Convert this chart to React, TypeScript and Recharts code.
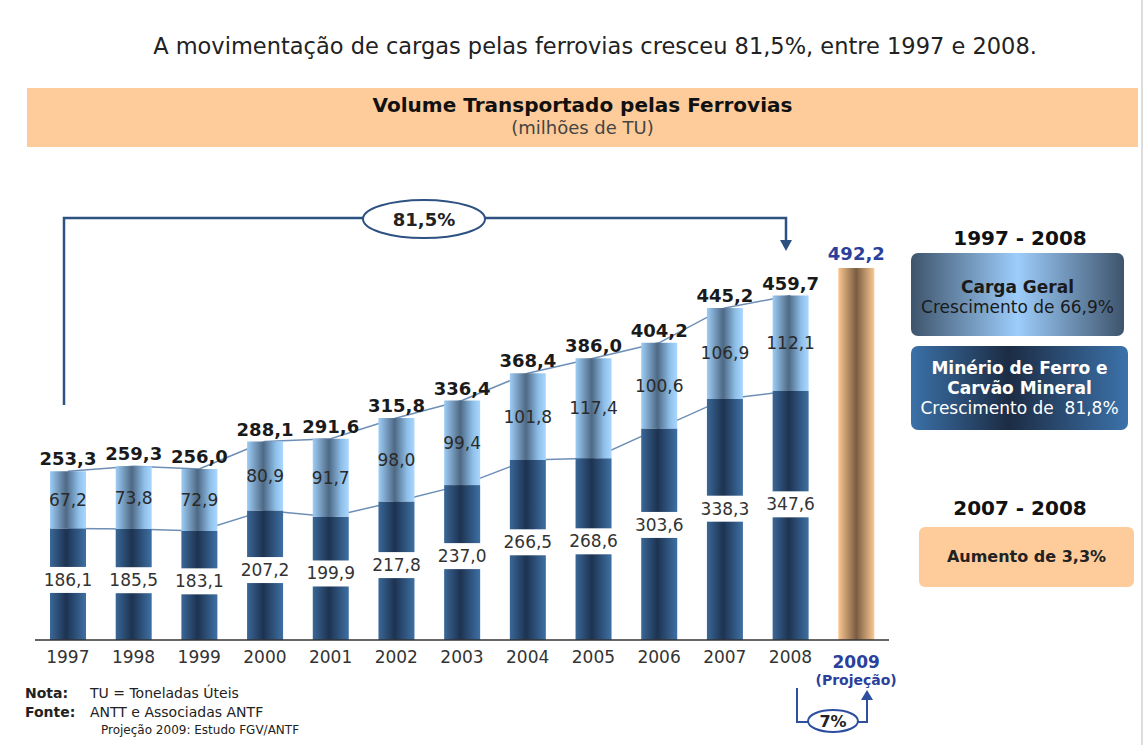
import { ComposedChart, Bar, Line, XAxis, YAxis, LabelList } from 'recharts';

const years = ['1997', '1998', '1999', '2000', '2001', '2002', '2003', '2004', '2005', '2006', '2007', '2008', '2009'];
const minerio = [186.1, 185.5, 183.1, 207.2, 199.9, 217.8, 237.0, 266.5, 268.6, 303.6, 338.3, 347.6, null];
const cargaGeral = [67.2, 73.8, 72.9, 80.9, 91.7, 98.0, 99.4, 101.8, 117.4, 100.6, 106.9, 112.1, null];
const totals = [253.3, 259.3, 256.0, 288.1, 291.6, 315.8, 336.4, 368.4, 386.0, 404.2, 445.2, 459.7, null];
const projecao = [null, null, null, null, null, null, null, null, null, null, null, null, 492.2];

const data = years.map((year, i) => ({
  year,
  minerio: minerio[i],
  carga: cargaGeral[i],
  total: totals[i],
  projecao: projecao[i],
}));

const FONT = '"DejaVu Sans", Verdana, sans-serif';
const fmt = (v: any) => (v == null ? '' : Number(v).toFixed(1).replace('.', ','));

// bottom segment is drawn broken, the value sits in the gap
const MinerioShape = (props: any) => {
  const { x, y, width, height, payload } = props;
  if (!height || height <= 0) return null;
  const gap = 26;
  const lowH = (height - gap) * 0.55;
  const upH = height - gap - lowH;
  return (
    <g>
      <rect x={x} y={y} width={width} height={upH} fill='url(#gDark)' />
      <rect x={x} y={y + height - lowH} width={width} height={lowH} fill='url(#gDark)' />
      <text
        x={x + width / 2}
        y={y + upH + gap / 2}
        textAnchor='middle'
        dominantBaseline='central'
        fontSize={17}
        fontFamily={FONT}
        fill='#333'
      >
        {fmt(payload.minerio)}
      </text>
    </g>
  );
};

const YearTick = ({ x, y, payload }: any) => {
  if (payload.value === '2009') {
    return (
      <g fontFamily={FONT} fontWeight='bold'>
        <text x={x} y={y + 20} fontSize={17} fill='#2b3f9c' textAnchor='middle'>
          2009
        </text>
        <text x={x} y={y + 37} fontSize={14} fill='#2b3f9c' textAnchor='middle'>
          (Projeção)
        </text>
      </g>
    );
  }
  return (
    <text x={x} y={y + 15} textAnchor='middle' fontSize={17} fontFamily={FONT} fill='#333'>
      {payload.value}
    </text>
  );
};

const App = () => {
  return (
    <div style={{ position: 'relative', width: 1147, height: 747, background: '#fff', overflow: 'hidden', fontFamily: FONT }}>
      <style>{`body{margin:0}`}</style>
      <svg width={0} height={0} style={{ position: 'absolute' }}>
        <defs>
          <linearGradient id='gDark' x1='0' y1='0' x2='1' y2='0'>
            <stop offset='0%' stopColor='#3a6797' />
            <stop offset='45%' stopColor='#1d3351' />
            <stop offset='100%' stopColor='#3e70a4' />
          </linearGradient>
          <linearGradient id='gLight' x1='0' y1='0' x2='1' y2='0'>
            <stop offset='0%' stopColor='#9ecdf6' />
            <stop offset='45%' stopColor='#4e6985' />
            <stop offset='80%' stopColor='#8fc0ea' />
            <stop offset='100%' stopColor='#aad7ff' />
          </linearGradient>
          <linearGradient id='gOrange' x1='0' y1='0' x2='1' y2='0'>
            <stop offset='0%' stopColor='#fbc68f' />
            <stop offset='50%' stopColor='#7a5c41' />
            <stop offset='100%' stopColor='#fbc892' />
          </linearGradient>
        </defs>
      </svg>

      <div style={{ position: 'absolute', left: 0, top: 33, width: 1190, textAlign: 'center', fontSize: 22.5, color: '#222', whiteSpace: 'nowrap' }}>
        A movimentação de cargas pelas ferrovias cresceu 81,5%, entre 1997 e 2008.
      </div>
      <div style={{ position: 'absolute', left: 27, top: 88, width: 1111, height: 59, background: '#fdcc9a', textAlign: 'center' }}>
        <div style={{ fontWeight: 'bold', fontSize: 20, marginTop: 5, color: '#111' }}>Volume Transportado pelas Ferrovias</div>
        <div style={{ fontSize: 18, color: '#444', marginTop: 0 }}>(milhões de TU)</div>
      </div>

      <ComposedChart
        width={1147}
        height={747}
        data={data}
        margin={{ top: 240, right: 258, bottom: 67, left: 35 }}
        barSize={36}
        style={{ position: 'absolute', left: 0, top: 0 }}
      >
        <XAxis
          dataKey='year'
          height={40}
          interval={0}
          tickLine={false}
          axisLine={{ stroke: '#333', strokeWidth: 1.5 }}
          tick={<YearTick />}
        />
        <YAxis hide type='number' domain={[55, 525]} allowDataOverflow />
        <Line dataKey='total' stroke='#6d8fb6' strokeWidth={1.5} dot={false} isAnimationActive={false} zIndex={100} />
        <Line dataKey='minerio' stroke='#6d8fb6' strokeWidth={1.5} dot={false} isAnimationActive={false} zIndex={100} />
        <Bar dataKey='minerio' stackId='s' shape={<MinerioShape />} isAnimationActive={false} />
        <Bar dataKey='carga' stackId='s' fill='url(#gLight)' isAnimationActive={false}>
          <LabelList dataKey='carga' position='center' formatter={fmt} fontSize={17} fontFamily={FONT} fill='#2a2a2a' />
          <LabelList dataKey='total' position='top' offset={6} formatter={fmt} fontSize={18} fontWeight='bold' fontFamily={FONT} fill='#1a1a1a' />
        </Bar>
        <Bar dataKey='projecao' stackId='s' fill='url(#gOrange)' isAnimationActive={false}>
          <LabelList dataKey='projecao' position='top' offset={8} formatter={fmt} fontSize={18} fontWeight='bold' fontFamily={FONT} fill='#2b3f9c' />
        </Bar>
      </ComposedChart>

      <svg width={1147} height={747} style={{ position: 'absolute', left: 0, top: 0, pointerEvents: 'none' }}>
        <polyline points='64,405 64,218 786,218 786,242' fill='none' stroke='#2d5282' strokeWidth={2.5} />
        <polygon points='780,240 792,240 786,251' fill='#2d5282' />
        <ellipse cx={424} cy={219} rx={61} ry={19} fill='#fff' stroke='#2d5282' strokeWidth={2} />
        <text x={424} y={226} textAnchor='middle' fontSize={18} fontWeight='bold' fontFamily={FONT} fill='#222'>
          81,5%
        </text>
        <polyline points='797,688 797,722 867,722 867,698' fill='none' stroke='#2e4fa0' strokeWidth={2} />
        <polygon points='861,700 873,700 867,690' fill='#2e4fa0' />
        <ellipse cx={833} cy={721} rx={25} ry={11} fill='#fff' stroke='#2e4fa0' strokeWidth={2} />
        <text x={833} y={727} textAnchor='middle' fontSize={16} fontWeight='bold' fontFamily={FONT} fill='#222'>
          7%
        </text>
      </svg>

      <div style={{ position: 'absolute', left: 911, top: 226, width: 218, textAlign: 'center', fontSize: 20, fontWeight: 'bold', color: '#111' }}>
        1997 - 2008
      </div>
      <div
        style={{
          position: 'absolute', left: 911, top: 253, width: 213, height: 83, borderRadius: 7,
          background: 'linear-gradient(90deg, #3e546c 0%, #9dcdfb 50%, #3e546c 100%)',
          textAlign: 'center', color: '#1a1a1a', whiteSpace: 'nowrap',
        }}
      >
        <div style={{ fontWeight: 'bold', fontSize: 17, marginTop: 24 }}>Carga Geral</div>
        <div style={{ fontSize: 17 }}>Crescimento de 66,9%</div>
      </div>
      <div
        style={{
          position: 'absolute', left: 911, top: 346, width: 217, height: 84, borderRadius: 7,
          background: 'linear-gradient(90deg, #3b71a8 0%, #1c2c44 45%, #3c72aa 100%)',
          textAlign: 'center', color: '#fff', whiteSpace: 'nowrap',
        }}
      >
        <div style={{ fontWeight: 'bold', fontSize: 17, marginTop: 12, lineHeight: '20px' }}>Minério de Ferro e</div>
        <div style={{ fontWeight: 'bold', fontSize: 17, lineHeight: '20px' }}>Carvão Mineral</div>
        <div style={{ fontSize: 17, lineHeight: '21px' }}>Crescimento de&nbsp; 81,8%</div>
      </div>
      <div style={{ position: 'absolute', left: 911, top: 496, width: 218, textAlign: 'center', fontSize: 20, fontWeight: 'bold', color: '#111' }}>
        2007 - 2008
      </div>
      <div
        style={{
          position: 'absolute', left: 919, top: 527, width: 215, height: 60, borderRadius: 6,
          background: '#fdcc9a', textAlign: 'center', lineHeight: '60px', fontWeight: 'bold', fontSize: 16, color: '#222',
        }}
      >
        Aumento de 3,3%
      </div>

      <div style={{ position: 'absolute', left: 25, top: 684, fontSize: 14, lineHeight: '19px', color: '#222' }}>
        <div><b style={{ display: 'inline-block', width: 65 }}>Nota:</b>TU = Toneladas Úteis</div>
        <div><b style={{ display: 'inline-block', width: 65 }}>Fonte:</b>ANTT e Associadas ANTF</div>
        <div style={{ fontSize: 12, lineHeight: '16px' }}><span style={{ display: 'inline-block', width: 76 }} />Projeção 2009: Estudo FGV/ANTF</div>
      </div>
      <div style={{ position: 'absolute', left: 1141, top: 0, width: 0, height: 745, borderLeft: '2px solid #ddd' }} />
    </div>
  );
};

export default App;
